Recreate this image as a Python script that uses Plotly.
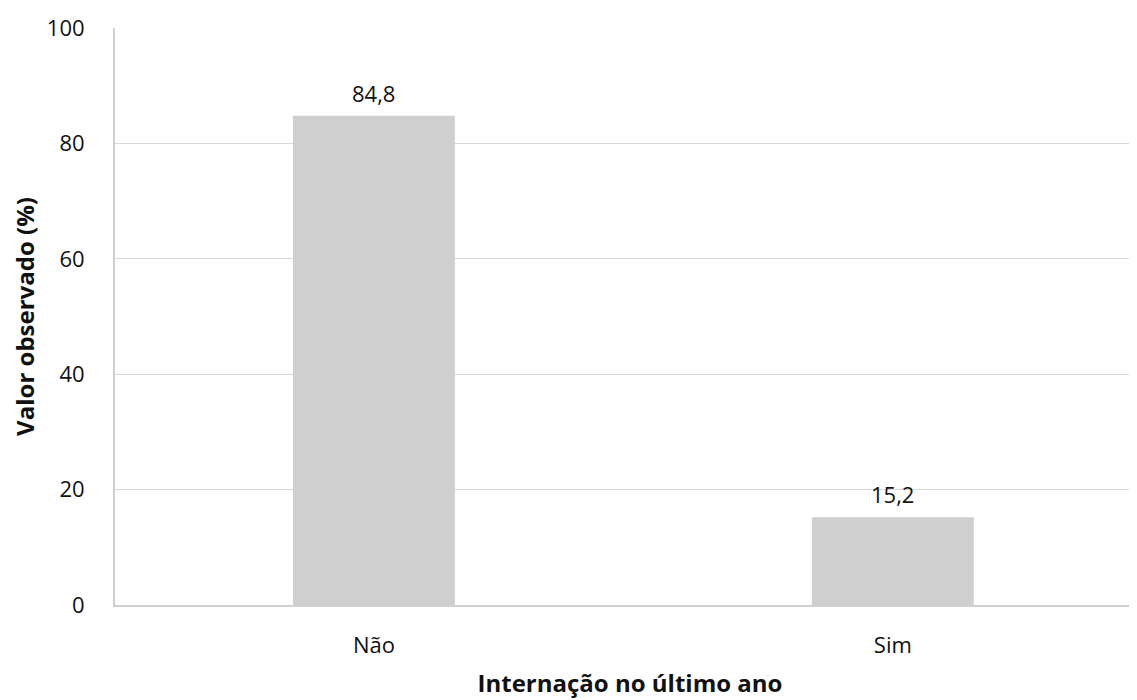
import plotly.graph_objects as go

categorias = ["Não", "Sim"]
valores = [84.8, 15.2]
posicoes = [0, 1]
rotulos = ["84,8", "15,2"]

fig = go.Figure()
fig.add_trace(go.Bar(
    x=posicoes, y=valores,
    width=0.312,
    marker=dict(color="#cfcfcf", line=dict(width=0)),
))

# rótulos de valor acima das barras
for xv, yv, txt in zip(posicoes, valores, rotulos):
    fig.add_annotation(x=xv, y=yv, text=txt, showarrow=False,
                       yshift=23, font=dict(size=22, color="#111111"))

fig.update_layout(
    width=1137, height=700,
    margin=dict(l=107, r=0, t=20, b=103),
    plot_bgcolor="white", paper_bgcolor="white",
    separators=",.",
    font=dict(family="Open Sans", size=22, color="#111111"),
    showlegend=False,
    xaxis=dict(
        range=[-0.499, 1.486],
        tickvals=posicoes, ticktext=categorias,
        showgrid=False, showline=True, linecolor="#d0d0d0", linewidth=2,
        ticks="", ticklabelstandoff=20,
        title=dict(text="<b>Internação no último ano</b>", font=dict(size=24), standoff=17),
    ),
    yaxis=dict(
        range=[0, 100], tickvals=[0, 20, 40, 60, 80, 100],
        showgrid=True, gridcolor="#d9d9d9", gridwidth=1,
        showline=True, linecolor="#d0d0d0", linewidth=2,
        zeroline=False, ticks="", ticklabelstandoff=24,
        title=dict(text="<b>Valor observado (%)</b>", font=dict(size=24), standoff=17),
    ),
)

fig.write_html("out.html")
